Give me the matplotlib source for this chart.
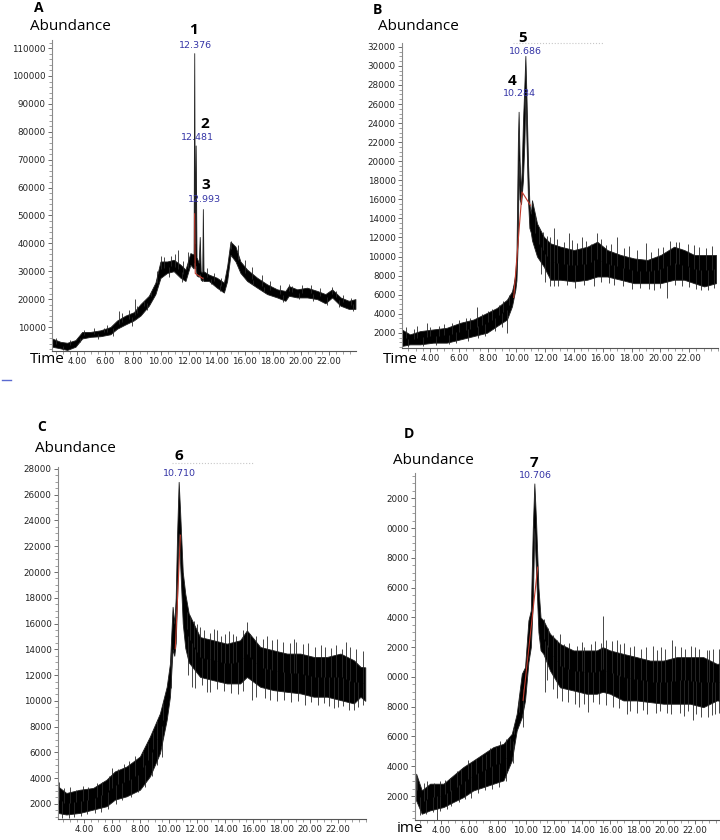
"""
Four GC-MS total ion chromatograms (panels A-D)
"""

import numpy as np
import matplotlib
matplotlib.use("Agg")
import matplotlib.pyplot as plt
from matplotlib.lines import Line2D
from matplotlib.ticker import MultipleLocator, FixedLocator, FixedFormatter

W, H = 720, 840

# ---- panel A: band (lo/hi), spikes (time, tip) separately ----
A_t = [2.21, 2.8, 3.28, 3.88, 4.36, 4.95, 5.67, 6.38, 6.86, 7.46, 8.05, 8.53, 9.13, 9.6,
       9.96, 10.44, 10.91, 11.39, 11.75, 12.1, 12.33, 12.376, 12.42, 12.481, 12.54, 12.7,
       12.77, 12.84, 12.95, 12.993, 13.04, 13.42, 14.0, 14.5, 14.73, 14.97, 15.33, 15.68,
       16.16, 16.88, 17.59, 18.31, 18.9, 19.14, 19.74, 20.45, 21.17, 21.76, 22.24, 22.84,
       23.43, 23.91]
A_hi = [5880, 4700, 4350, 5300, 8240, 8240, 8820, 10000, 12350, 14100, 15300, 18200, 21200,
        25900, 33500, 33500, 34100, 32350, 30600, 36500, 36000, 108200, 40000, 75100, 35000,
        33000, 42300, 30000, 29500, 52300, 30000, 28800, 27650, 25900, 31800, 40600, 38800,
        33500, 30600, 27650, 25300, 23500, 22940, 24700, 23500, 24100, 22940, 21800, 23500,
        20600, 19400, 20000]
A_lo = [2940, 2350, 1770, 2940, 5900, 6470, 6700, 7400, 9400, 10940, 12350, 14100, 17650,
        21800, 27600, 29400, 30000, 27650, 26500, 32350, 31000, 33000, 31000, 32000, 28500,
        28000, 29000, 27000, 26500, 28000, 26500, 26500, 24100, 22350, 26500, 35900, 33500,
        29400, 26500, 24100, 21800, 20600, 19400, 21200, 20600, 20600, 20000, 18500, 20600,
        17650, 16500, 16500]
A_spikes = [(6.98, 15900), (8.12, 20000), (10.03, 35300), (11.2, 37600), (11.9, 37000),
            (15.0, 41000), (19.14, 25300), (22.2, 24500), (2.5, 6000), (3.5, 5200),
            (4.5, 9000), (5.2, 9500), (5.9, 9800), (6.1, 10800), (7.2, 15000), (7.7, 16000),
            (8.3, 17500), (8.8, 19500), (9.3, 22500), (9.7, 30000), (10.2, 35000),
            (10.7, 35500), (11.0, 36000), (11.6, 33500), (13.3, 31000), (13.8, 29500),
            (14.3, 27500), (15.5, 39500), (16.0, 34000), (16.5, 31500), (17.2, 28500),
            (17.8, 26500), (18.5, 25000), (19.4, 24800), (20.1, 25000), (20.7, 25200),
            (21.4, 24000), (22.5, 23000), (23.0, 21500), (23.6, 20500), (3.0, 1800),
            (4.2, 4800), (5.5, 5800), (6.6, 6800), (7.9, 10500), (9.0, 16000), (10.6, 28000),
            (11.5, 26000), (13.6, 25500), (14.2, 23000), (16.6, 25000), (17.4, 22500),
            (18.7, 19000), (19.9, 20000), (20.9, 19500), (21.9, 18000), (22.7, 17000),
            (23.7, 15800)]
A_red_t = [12.40, 12.45, 13.0]
A_red_v = [50600, 29200, 27400]

# ---- panel B ----
B_t = [2.03, 2.6, 3.3, 4.23, 5.16, 6.09, 7.02, 7.95, 8.64, 9.34, 9.69, 9.81, 9.92, 10.0,
       10.1, 10.15, 10.22, 10.32, 10.45, 10.55, 10.62, 10.7, 10.8, 10.9, 11.0, 11.08, 11.43,
       11.9, 12.36, 13.06, 13.99, 14.92, 15.61, 16.31, 17.24, 18.17, 19.1, 20.02, 20.95,
       21.65, 22.35, 23.04, 23.86]
B_hi = [2350, 1830, 2170, 2350, 2520, 3040, 3390, 4080, 4600, 5470, 6340, 7160, 8180, 10000,
        22000, 25190, 20000, 16500, 24000, 28000, 31050, 26500, 20000, 15500, 14500, 15900,
        13460, 12070, 11380, 11030, 10680, 11030, 11550, 10680, 10160, 9800, 9640, 10160,
        11030, 10680, 10160, 10160, 10160]
B_lo = [610, 780, 780, 960, 960, 1300, 1650, 2000, 2700, 3390, 4780, 5700, 6500, 7500,
        12000, 20000, 16000, 15500, 18000, 22000, 27000, 22000, 16000, 13000, 12500, 11700,
        10000, 8940, 7560, 7560, 7380, 7560, 7900, 7900, 7560, 7200, 7200, 7200, 7560, 7560,
        7200, 6860, 7200]
B_spikes = [(3.77, 3040), (7.25, 4670), (12.59, 12940), (13.64, 12420), (14.57, 12070),
            (15.57, 12420), (16.96, 12070), (18.98, 11380), (21.07, 11550), (22.35, 11200),
            (9.34, 1930), (12.59, 6860), (15.38, 6930), (19.56, 6510), (20.44, 5650),
            (22.81, 6510), (23.74, 6690),
            (11.3, 14200), (11.6, 13000), (11.85, 12600), (12.1, 12200), (12.35, 12000),
            (12.8, 11800), (13.3, 11500), (13.85, 11700), (14.2, 11400), (14.8, 11600),
            (15.2, 11300), (15.85, 11800), (16.2, 11200), (16.6, 11300), (17.5, 10900),
            (17.8, 11100), (18.4, 10700), (19.35, 10500), (19.8, 10900), (20.2, 11000),
            (20.7, 11600), (21.3, 11500), (21.9, 11300), (22.7, 11000), (23.2, 10900),
            (23.6, 11100),
            (11.7, 8200), (12.0, 7300), (12.3, 6900), (12.9, 6900), (13.5, 7000), (14.1, 6700),
            (14.7, 7000), (15.9, 7300), (16.4, 7200), (16.8, 7000), (17.4, 6900), (18.0, 6600),
            (18.6, 6700), (19.2, 6600), (20.0, 6700), (21.0, 7000), (21.5, 6900), (22.0, 6800),
            (22.5, 6600), (23.3, 6500),
            (2.3, 2600), (2.9, 2400), (3.1, 2700), (4.0, 2600), (4.6, 2700), (5.0, 2900),
            (5.5, 3000), (6.0, 3300), (6.5, 3500), (6.8, 3600), (7.6, 4000), (8.0, 4300),
            (8.3, 4500), (8.8, 4900), (9.1, 5300), (9.5, 6000),
            (2.5, 500), (3.5, 600), (4.4, 700), (5.3, 800), (5.8, 900), (6.6, 1100), (7.3, 1500),
            (7.8, 1700), (8.5, 2200), (9.0, 2600)]
B_red_t = [9.81, 10.39, 10.97]
B_red_v = [5700, 16770, 15370]

# ---- panel C ----
C_t = [2.15, 2.74, 3.69, 4.64, 5.59, 6.18, 7.01, 7.96, 8.67, 9.38, 9.86, 10.09, 10.28, 10.4,
       10.5, 10.6, 10.71, 10.8, 10.9, 11.0, 11.18, 11.42, 12.23, 13.18, 14.13, 15.07, 15.55,
       16.5, 17.45, 18.39, 19.34, 20.29, 21.24, 22.19, 23.14, 23.61, 23.95]
C_hi = [3360, 2850, 3100, 3240, 3880, 4520, 4900, 5680, 7230, 9030, 11090, 12890, 17300,
        16000, 18000, 23000, 27000, 25000, 22500, 20000, 18300, 16800, 14950, 14700, 14440,
        14700, 15470, 14180, 13920, 13670, 13670, 13410, 13410, 13670, 13150, 12640, 12600]
C_lo = [1300, 1180, 1300, 1560, 1820, 2330, 2590, 3100, 4140, 5940, 8520, 10320, 14000,
        13500, 14500, 18000, 23000, 21000, 18500, 16000, 14100, 13000, 11860, 11600, 11350,
        11350, 11860, 11090, 10830, 10700, 10580, 10320, 10320, 10060, 9800, 10320, 10000]
C_spikes = [(12.23, 15730), (13.41, 15470), (14.6, 15210), (15.55, 16110), (18.87, 14820),
            (22.9, 14180), (9.5, 5680), (11.64, 11090), (12.7, 10700), (15.9, 10060),
            (21.71, 9420), (23.14, 9290), (10.2, 11000),
            (11.3, 16900), (11.5, 16500), (11.8, 16200), (12.0, 16000), (12.5, 15500),
            (12.9, 15300), (13.2, 15600), (13.7, 15000), (14.0, 15200), (14.3, 15400),
            (14.8, 15000), (15.3, 15500), (15.8, 15200), (16.2, 15000), (16.7, 14800),
            (17.0, 15000), (17.3, 14700), (17.7, 14800), (18.1, 14600), (18.6, 14500),
            (19.0, 14600), (19.5, 14400), (19.9, 14500), (20.4, 14200), (20.8, 14300),
            (21.1, 14200), (21.5, 14100), (21.9, 14300), (22.3, 14000), (22.6, 14600),
            (23.3, 14000), (23.8, 13900),
            (11.4, 12000), (11.9, 11000), (12.4, 11200), (12.9, 10700), (13.4, 10900),
            (13.9, 10800), (14.4, 10600), (14.9, 10500), (15.3, 10800), (16.2, 10300),
            (16.8, 10200), (17.2, 10100), (17.7, 10000), (18.2, 10100), (18.7, 9900),
            (19.2, 10000), (19.7, 9700), (20.1, 9900), (20.6, 9700), (21.0, 9800),
            (21.4, 9600), (22.0, 9500), (22.4, 9600), (22.8, 9300), (23.4, 9500), (23.8, 9700),
            (2.2, 3700), (2.6, 3200), (3.0, 3300), (3.4, 3100), (3.9, 3400), (4.3, 3300),
            (4.9, 3600), (5.3, 3700), (5.8, 4200), (6.0, 4800), (6.4, 4700), (6.8, 5100),
            (7.2, 5300), (7.6, 5700), (8.2, 6000), (8.5, 6700), (8.9, 7600), (9.2, 8500),
            (9.6, 9800),
            (2.4, 900), (2.9, 900), (3.3, 1000), (3.8, 1100), (4.2, 1200), (4.8, 1300),
            (5.2, 1400), (5.7, 1600), (6.3, 2000), (6.7, 2300), (7.3, 2500), (7.8, 2900),
            (8.3, 3300), (8.8, 4200), (9.2, 5000)]
C_red_t = [10.47, 10.83]
C_red_v = [14050, 22860]

# ---- panel D ----
D_t = [2.23, 2.63, 3.22, 4.17, 4.87, 5.58, 6.29, 7.0, 7.71, 8.42, 9.01, 9.36, 9.72, 9.95,
       10.19, 10.36, 10.5, 10.61, 10.73, 10.9, 11.05, 11.25, 11.72, 12.43, 13.38, 14.32,
       15.03, 15.46, 15.98, 16.92, 17.87, 18.81, 19.76, 20.7, 21.65, 22.59, 23.54, 23.77]
D_hi = [3500, 2380, 2830, 2830, 3390, 3950, 4390, 4840, 5290, 5510, 6180, 7530, 10210, 10660,
        13800, 14470, 20000, 23000, 20500, 16000, 14000, 13800, 12900, 12220, 11780, 11780,
        11780, 12000, 11780, 11550, 11330, 11100, 11100, 11330, 11330, 11330, 10880, 10900]
D_lo = [1700, 810, 1040, 1260, 1600, 1930, 2380, 2600, 2830, 3050, 4390, 6400, 7300, 8420,
        11000, 12000, 15000, 20000, 17000, 13000, 11800, 11550, 10430, 9300, 9090, 8870,
        8870, 9000, 8870, 8420, 8420, 8310, 8200, 8200, 8200, 7970, 8420, 8400]
D_spikes = [(15.46, 14100), (12.43, 12900), (13.97, 12340), (16.45, 12450), (19.05, 12110),
            (20.35, 12450), (22.83, 11780), (11.37, 8980), (14.44, 7640), (17.16, 7530),
            (21.88, 7080), (23.18, 7410), (3.69, 400), (9.84, 6630),
            (11.3, 13900), (11.55, 13300), (11.9, 12800), (12.2, 12500), (12.7, 12200),
            (13.1, 12300), (13.6, 12100), (14.1, 12000), (14.6, 12200), (14.9, 12400),
            (15.3, 12300), (15.7, 12500), (16.1, 12400), (16.7, 12200), (17.0, 12300),
            (17.4, 12000), (17.7, 12100), (18.2, 11900), (18.5, 12000), (19.3, 11800),
            (19.6, 12000), (19.9, 11900), (20.6, 12100), (21.0, 12000), (21.3, 11900),
            (21.7, 12100), (22.0, 12000), (22.3, 11900), (23.0, 11800), (23.3, 11900),
            (23.7, 11900),
            (11.5, 9800), (11.9, 9200), (12.2, 8600), (12.6, 8400), (13.0, 8300), (13.5, 8200),
            (13.8, 8000), (14.1, 8200), (14.8, 8300), (15.2, 8200), (15.7, 8100), (16.2, 8000),
            (16.6, 7900), (17.4, 7700), (17.9, 7600), (18.3, 7800), (18.6, 7500), (19.2, 7600),
            (19.5, 7700), (20.0, 7600), (20.3, 7500), (20.9, 7600), (21.2, 7400), (21.5, 7700),
            (22.1, 7500), (22.4, 7300), (22.9, 7300), (23.4, 7500), (23.7, 7600),
            (2.3, 3300), (2.8, 2900), (3.0, 3000), (3.5, 2900), (3.9, 3000), (4.3, 3100),
            (4.6, 3200), (5.1, 3700), (5.4, 3800), (5.9, 4400), (6.1, 4200), (6.5, 4500),
            (6.9, 4700), (7.2, 4800), (7.5, 5200), (7.9, 5300), (8.2, 5700), (8.6, 5800),
            (8.9, 5900), (9.2, 6600), (9.5, 8500),
            (2.5, 700), (2.9, 800), (3.4, 900), (3.9, 1000), (4.4, 1100), (4.7, 1300),
            (5.3, 1600), (5.7, 1800), (6.1, 1900), (6.6, 2200), (7.1, 2400), (7.6, 2500),
            (8.1, 2600), (8.6, 3000), (9.1, 4200)]
D_red_t = [9.81, 10.85]
D_red_v = [8430, 17380]

NARROW = ["Liberation Sans Narrow", "DejaVu Sans"]
LABEL = ["Open Sans", "DejaVu Sans"]
BLUE = "#3434a6"


def px_rect(left, top, right, bottom):
    return [left / W, 1 - bottom / H, (right - left) / W, (bottom - top) / H]


def ftxt(fig, x, y, s, **kw):
    kw.setdefault("va", "center")
    fig.text(x / W, 1 - y / H, s, **kw)


def draw_panel(ax, t, lo, hi, spikes, red_t, red_v, xlim, ylim, yticks, ylabels, ystep):
    t, lo, hi = np.array(t), np.array(lo), np.array(hi)
    ax.fill_between(t, lo, hi, color="black", edgecolor="#222222", lw=0.6)
    st = np.array([s[0] for s in spikes])
    sv = np.array([s[1] for s in spikes])
    base = np.interp(st, t, (lo + hi) / 2)
    ax.vlines(st, base, sv, color="#2a2a2a", lw=0.6)
    ax.plot(red_t, red_v, color="#c0392b", lw=0.8)

    ax.set_xlim(*xlim)
    ax.set_ylim(*ylim)
    for s in ("top", "right"):
        ax.spines[s].set_visible(False)
    ax.spines["left"].set_color("#8a8a8a")
    ax.spines["bottom"].set_color("#555555")
    ax.spines["left"].set_linewidth(0.8)
    ax.spines["bottom"].set_linewidth(0.8)

    ax.xaxis.set_major_locator(FixedLocator(np.arange(4, 23, 2)))
    ax.xaxis.set_major_formatter(FixedFormatter(["%.2f" % v for v in np.arange(4, 23, 2)]))
    ax.xaxis.set_minor_locator(MultipleLocator(0.5))
    ax.yaxis.set_major_locator(FixedLocator(yticks))
    ax.yaxis.set_major_formatter(FixedFormatter(ylabels))
    ax.yaxis.set_minor_locator(MultipleLocator(ystep))
    ax.tick_params(axis="both", which="major", length=3, width=0.6, color="#555555",
                   labelsize=6.3, pad=1.5)
    ax.tick_params(axis="both", which="minor", length=2, width=0.5, color="#777777")
    for lab in ax.get_xticklabels() + ax.get_yticklabels():
        lab.set_family(NARROW)
        lab.set_color("#222222")


def main():
    fig = plt.figure(figsize=(W / 100, H / 100), dpi=100)

    axA = fig.add_axes(px_rect(52, 40, 356, 351))
    yA = list(range(10000, 110001, 10000))
    draw_panel(axA, A_t, A_lo, A_hi, A_spikes, A_red_t, A_red_v,
               (2.2, 23.95), (1400, 112900), yA, [str(v) for v in yA], 2000)

    axB = fig.add_axes(px_rect(402, 43, 718, 348))
    yB = list(range(2000, 32001, 2000))
    draw_panel(axB, B_t, B_lo, B_hi, B_spikes, B_red_t, B_red_v,
               (2.05, 24.0), (400, 32400), yB, [str(v) for v in yB], 500)

    axC = fig.add_axes(px_rect(58, 467, 366, 819))
    yC = list(range(2000, 28001, 2000))
    draw_panel(axC, C_t, C_lo, C_hi, C_spikes, C_red_t, C_red_v,
               (2.15, 24.0), (830, 28150), yC, [str(v) for v in yC], 500)

    axD = fig.add_axes(px_rect(415, 473, 720, 820))
    yD = list(range(2000, 22001, 2000))
    # the source image crops the leading digit of these labels
    draw_panel(axD, D_t, D_lo, D_hi, D_spikes, D_red_t, D_red_v,
               (2.15, 23.77), (390, 23700), yD, [str(v)[-4:] for v in yD], 500)

    bold = dict(family=LABEL, fontweight="bold", color="black")
    plain = dict(family=LABEL, color="black", fontsize=11)
    blue = dict(family=NARROW, color=BLUE, fontsize=6.8, ha="center")

    # panel A
    ftxt(fig, 34, 8, "A", fontsize=10, **bold)
    ftxt(fig, 30, 26, "Abundance", **plain)
    ftxt(fig, 30, 359, "Time", **plain)
    ftxt(fig, 193, 30, "1", fontsize=11, ha="center", **bold)
    ftxt(fig, 195, 46, "12.376", **blue)
    ftxt(fig, 205, 124, "2", fontsize=11, ha="center", **bold)
    ftxt(fig, 197, 138, "12.481", **blue)
    ftxt(fig, 206, 185, "3", fontsize=11, ha="center", **bold)
    ftxt(fig, 204, 199, "12.993", **blue)
    fig.add_artist(Line2D([2 / W, 11 / W], [1 - 380 / H, 1 - 380 / H], color="#5a6ad0", lw=1))

    # panel B
    ftxt(fig, 373, 10, "B", fontsize=10, **bold)
    ftxt(fig, 378, 27, "Abundance", **plain)
    ftxt(fig, 383, 359, "Time", **plain)
    ftxt(fig, 523, 38, "5", fontsize=11, ha="center", **bold)
    ftxt(fig, 525, 51, "10.686", **blue)
    ftxt(fig, 512, 81, "4", fontsize=11, ha="center", **bold)
    ftxt(fig, 519, 93, "10.284", **blue)
    fig.add_artist(Line2D([513 / W, 603 / W], [1 - 43 / H, 1 - 43 / H],
                          color="#c8c8c8", lw=0.8, ls=":"))

    # panel C
    ftxt(fig, 37, 427, "C", fontsize=10, **bold)
    ftxt(fig, 35, 449, "Abundance", **plain)
    ftxt(fig, 179, 456, "6", fontsize=11, ha="center", **bold)
    ftxt(fig, 179, 474, "10.710", **blue)
    fig.add_artist(Line2D([172 / W, 253 / W], [1 - 463 / H, 1 - 463 / H],
                          color="#c8c8c8", lw=0.8, ls=":"))

    # panel D
    ftxt(fig, 404, 434, "D", fontsize=10, **bold)
    ftxt(fig, 393, 460, "Abundance", **plain)
    ftxt(fig, 534, 463, "7", fontsize=11, ha="center", **bold)
    ftxt(fig, 535, 476, "10.706", **blue)
    ftxt(fig, 397, 828, "ime", **plain)

    fig.savefig("out.png", dpi=100)


if __name__ == "__main__":
    main()
